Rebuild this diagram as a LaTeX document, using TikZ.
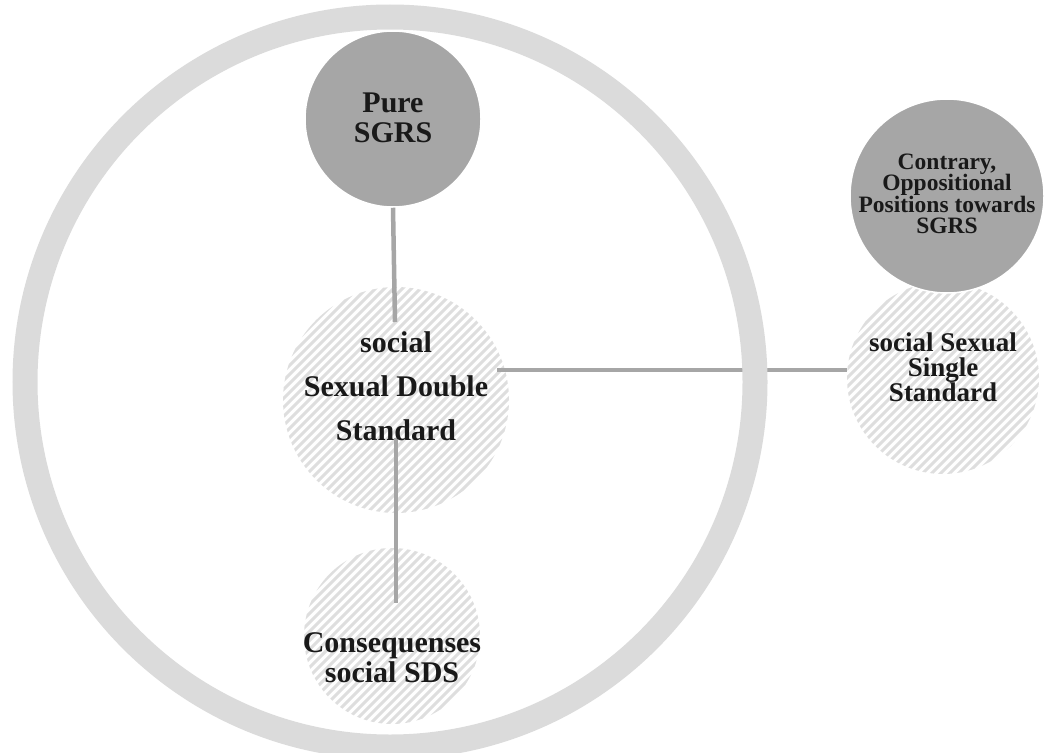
\documentclass[tikz,border=0pt]{standalone}
\usepackage{fontspec}
\setmainfont{Liberation Serif}
\definecolor{ringgray}{gray}{0.86}
\definecolor{solidgray}{gray}{0.65}
\definecolor{linegray}{gray}{0.65}
\definecolor{hatchgray}{gray}{0.87}
\tikzset{
  solidcircle/.style={circle, fill=solidgray, draw=white, line width=1.5pt, inner sep=0pt},
  hatchcircle/.style={circle, inner sep=0pt},
  hatchline/.style={draw=hatchgray, line width=3pt},
  connector/.style={draw=linegray, line width=4.5pt},
  ringstyle/.style={draw=ringgray, line width=25pt},
  label/.style={align=center, inner sep=0pt, text=black!90},
}
\newcommand{\hatchfill}[3]{% centre x, centre y, radius
  \begin{scope}
    \clip (#1,#2) circle (#3);
    \foreach \k in {-240,-231,...,240}{
      \draw[hatchline] (#1+\k-130,#2+130) -- (#1+\k+130,#2-130);
    }
  \end{scope}}
\begin{document}
\begin{tikzpicture}[x=1pt,y=-1pt]
\useasboundingbox (0,0) rectangle (1046,752);
% hatched circles (background)
\node[hatchcircle, minimum size=226pt] (center) at (396,400) {};
\node[hatchcircle, minimum size=176pt] (conseq) at (392,636) {};
\node[hatchcircle, minimum size=192pt] (single) at (943,378) {};
\hatchfill{396}{400}{113}
\hatchfill{392}{636}{88}
\hatchfill{943}{378}{96}
% connector end points
\coordinate (ctop) at (395,322);
\coordinate (cright) at (497,370);
\coordinate (cbot) at (396,438);
\coordinate (qtop) at (396,603);
% solid circles
\node[solidcircle, minimum size=176pt] (pure) at (393,119) {};
\node[solidcircle, minimum size=194pt] (contrary) at (947,196) {};
% connectors
\draw[connector] (pure.south) -- (ctop);
\draw[connector] (cright) -- (cright -| single.west);
\draw[connector] (cbot) -- (qtop);
% big ring
\draw[ringstyle] (390,382) circle (365);
% labels
\node[label, font=\bfseries\fontsize{30}{30}\selectfont] (tpure) at (393,118) {Pure\\SGRS};
\node[label, font=\bfseries\fontsize{30}{44}\selectfont] (tcenter) at (396,386) {social\\Sexual Double\\Standard};
\node[label, font=\bfseries\fontsize{30}{30}\selectfont] (tconseq) at (392,658) {Consequenses\\social SDS};
\node[label, font=\bfseries\fontsize{23.5}{21.5}\selectfont] (tcontrary) at (947,194) {Contrary,\\Oppositional\\Positions towards\\SGRS};
\node[label, font=\bfseries\fontsize{27}{25}\selectfont] (tsingle) at (943,367) {social Sexual\\Single\\Standard};
\end{tikzpicture}
\end{document}
